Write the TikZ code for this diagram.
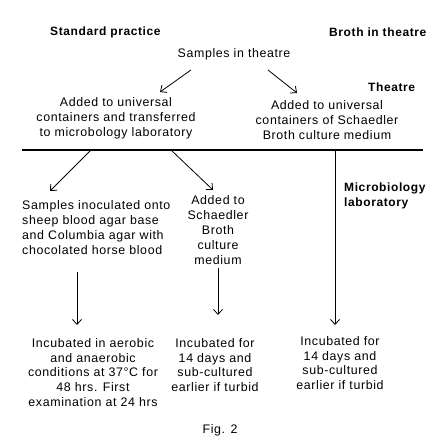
\documentclass[tikz,border=0pt]{standalone}
\usepackage{fontspec}
\setmainfont{Liberation Sans}[LetterSpace=5]
\usetikzlibrary{arrows.meta}
\begin{document}
\begin{tikzpicture}[x=1pt,y=-1pt,
  txt/.style={inner sep=0pt,align=center,font=\fontsize{12.4}{14.8}\selectfont},
  txtl/.style={inner sep=0pt,align=left,font=\fontsize{12.4}{14.8}\selectfont},
  ttl/.style={inner sep=0pt,align=left,font=\fontsize{12}{14.8}\selectfont\bfseries},
  arr/.style={line width=0.8pt,-{Straight Barb[length=5pt,width=9pt,line width=0.8pt]}},
  rule/.style={line width=1.8pt}]
\useasboundingbox (0,0) rectangle (443,443);
\fill[white] (0,0) rectangle (443,443);
% titles
\node[ttl,anchor=west] (std) at (50,32) {Standard practice};
\node[ttl,anchor=west] (bth) at (329,32) {Broth in theatre};
\node[ttl,anchor=west] (thr) at (368,87) {Theatre};
\node[ttl,anchor=west] (mic) at (344,195.5) {Microbiology\\laboratory};
% texts
\node[txt] (sit) at (234,54) {Samples in theatre};
\node[txt] (aul) at (116,118.5) {Added to universal\\containers and transferred\\to microbology laboratory};
\node[txt] (aur) at (327,120) {Added to universal\\containers of Schaedler\\Broth culture medium};
\node[txtl,anchor=west] (sio) at (22,227.5) {Samples inoculated onto\\sheep blood agar base\\and Columbia agar with\\chocolated horse blood};
\node[txt] (ats) at (218,230) {Added to\\Schaedler\\Broth\\culture\\medium};
\node[txt] (iae) at (93,372.5) {Incubated in aerobic\\and anaerobic\\conditions at 37\textdegree C for\\48 hrs. First\\examination at 24 hrs};
\node[txt] (ifm) at (215,365) {Incubated for\\14 days and\\sub-cultured\\earlier if turbid};
\node[txt] (ifr) at (340,363) {Incubated for\\14 days and\\sub-cultured\\earlier if turbid};
\node[txt] (fig) at (220,430) {Fig. 2};
% coordinates
\coordinate (a1s) at (191,70);  \coordinate (a1e) at (160,92);
\coordinate (a2s) at (268,70);  \coordinate (a2e) at (297,93);
\coordinate (hl) at (22,150);   \coordinate (hr) at (423,150);
\coordinate (a3s) at (91,150);  \coordinate (a3e) at (50,191);
\coordinate (a4s) at (171,150); \coordinate (a4e) at (213,190);
\coordinate (v1s) at (335,150); \coordinate (v1e) at (335,325);
\coordinate (v2s) at (77,272);  \coordinate (v2e) at (77,325);
\coordinate (v3s) at (218,268); \coordinate (v3e) at (218,315);
% lines
\draw[rule] (hl) -- (hr);
\draw[arr] (a1s) -- (a1e);
\draw[arr] (a2s) -- (a2e);
\draw[arr] (a3s) -- (a3e);
\draw[arr] (a4s) -- (a4e);
\draw[arr] (v1s) -- (v1e);
\draw[arr] (v2s) -- (v2e);
\draw[arr] (v3s) -- (v3e);
\end{tikzpicture}
\end{document}
